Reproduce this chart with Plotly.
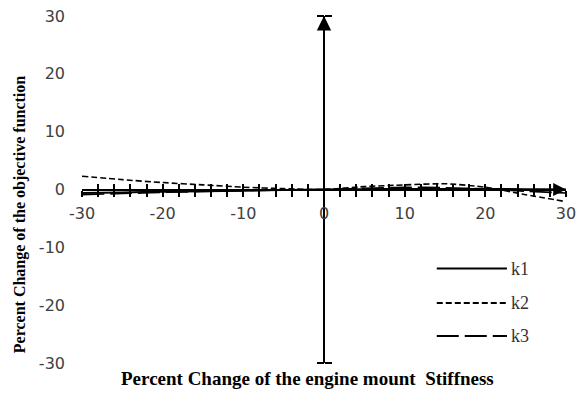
import plotly.graph_objects as go

# Percent change of the engine mount stiffness (x) and of the objective function (y)
stiffness_change = [-30, -25, -20, -15, -10, -5, 0, 5, 10, 15, 20, 25, 30]
k1 = [-0.6, -0.5, -0.4, -0.3, -0.2, -0.1, 0.0, 0.05, 0.1, 0.1, 0.1, 0.05, 0.0]
k2 = [2.3, 1.7, 1.2, 0.8, 0.4, 0.15, 0.0, 0.5, 0.8, 1.0, 0.4, -0.9, -2.1]
k3 = [-0.9, -0.7, -0.5, -0.35, -0.2, -0.1, 0.0, 0.2, 0.4, 0.3, 0.1, -0.3, -0.6]

series_names = ["k1", "k2", "k3"]
y_ticks = [-30, -20, -10, 0, 10, 20, 30]
x_range = [-30, 30]
y_range = [-30, 30]
x_label_step = 10
x_mark_step = 2

# tick marks every 2 %, labels every 10 %
x_marks = list(range(x_range[0], x_range[1] + 1, x_mark_step))
x_mark_text = [str(v) if v % x_label_step == 0 else "" for v in x_marks]

dashes = ["solid", "6px,3px", "22px,6px"]
widths = [2, 1.6, 1.6]

fig = go.Figure()
for name, ys, dash, w in zip(series_names, [k1, k2, k3], dashes, widths):
    fig.add_trace(go.Scatter(
        x=stiffness_change, y=ys, mode="lines", name=name,
        line=dict(color="black", width=w, dash=dash, shape="spline", smoothing=0.6),
        showlegend=False,
    ))

tick_font = dict(family="DejaVu Sans", size=16, color="#404040")
serif = "Liberation Serif"

fig.update_layout(
    width=576, height=394,
    margin=dict(l=82, r=10, t=16, b=31),
    paper_bgcolor="white", plot_bgcolor="white",
    showlegend=False,
    xaxis=dict(
        range=x_range, domain=[0, 1], anchor="free", position=0.5, automargin=False,
        tickmode="array", tickvals=x_marks, ticktext=x_mark_text,
        ticks="outside", ticklen=6, tickwidth=1.5, tickcolor="black",
        showline=True, linecolor="black", linewidth=2,
        showgrid=False, zeroline=True, zerolinecolor="black", zerolinewidth=2,
        tickfont=tick_font, ticklabelstandoff=3, ticklabeloverflow="allow",
    ),
    xaxis2=dict(
        range=x_range, overlaying="x", anchor="free", position=0.5, automargin=False,
        tickmode="array", tickvals=x_marks, ticks="inside", ticklen=6,
        tickwidth=1.5, tickcolor="black",
        showticklabels=False, showline=False, showgrid=False, zeroline=False,
    ),
    yaxis=dict(
        range=y_range, domain=[0, 1], automargin=False,
        tickvals=y_ticks, ticktext=[str(v) for v in y_ticks],
        ticks="", showline=False, showgrid=False, zeroline=False,
        tickfont=tick_font, ticklabelstandoff=16,
    ),
    yaxis2=dict(
        range=y_range, overlaying="y", anchor="free", position=0.5, side="left",
        automargin=False,
        tickvals=[y_range[0], y_range[1]], ticks="outside", ticklen=7, tickwidth=1.5,
        tickcolor="black", showticklabels=False, showline=False, showgrid=False,
        zeroline=False,
    ),
    yaxis3=dict(
        range=y_range, overlaying="y", anchor="free", position=0.5, side="right",
        automargin=False,
        tickvals=[y_range[0], y_range[1]], ticks="outside", ticklen=7, tickwidth=1.5,
        tickcolor="black", showticklabels=False, showline=False, showgrid=False,
        zeroline=False,
    ),
)

# invisible traces so the overlay axes are rendered
fig.add_trace(go.Scatter(x=[None], y=[None], xaxis="x2", yaxis="y", showlegend=False))
fig.add_trace(go.Scatter(x=[None], y=[None], xaxis="x", yaxis="y2", showlegend=False))
fig.add_trace(go.Scatter(x=[None], y=[None], xaxis="x", yaxis="y3", showlegend=False))

# arrowheads at the positive ends of both axes
fig.add_annotation(x=0, y=y_range[1], ax=0, ay=y_range[1] - 6, xref="x", yref="y",
                   axref="x", ayref="y", showarrow=True, arrowhead=2, arrowsize=1.8,
                   arrowwidth=1.6, arrowcolor="black", text="")
fig.add_annotation(x=x_range[1], y=0, ax=x_range[1] - 4, ay=0, xref="x", yref="y",
                   axref="x", ayref="y", showarrow=True, arrowhead=2, arrowsize=1.6,
                   arrowwidth=1.6, arrowcolor="black", text="")

# legend keys
legend_y = [0.272, 0.173, 0.078]
for name, dash, w, ly in zip(series_names, dashes, widths, legend_y):
    fig.add_shape(type="line", xref="paper", yref="paper", x0=0.733, x1=0.878,
                  y0=ly, y1=ly, line=dict(color="black", width=2, dash=dash))
    fig.add_annotation(xref="paper", yref="paper", x=0.882, y=ly, text=name,
                       showarrow=False, xanchor="left", yanchor="middle",
                       font=dict(family=serif, size=18, color="#333333"))

# axis titles
fig.add_annotation(xref="paper", yref="paper", x=0.465, y=-0.044, yanchor="middle",
                   text="<b>Percent Change of the engine mount\u00a0 Stiffness</b>",
                   showarrow=False, font=dict(family=serif, size=19, color="black"))
fig.add_annotation(xref="paper", yref="paper", x=-0.152, y=0.43, textangle=-90,
                   text="<b>Percent Change of the objective function</b>",
                   showarrow=False, font=dict(family=serif, size=16, color="black"))

fig.write_html("out.html")
